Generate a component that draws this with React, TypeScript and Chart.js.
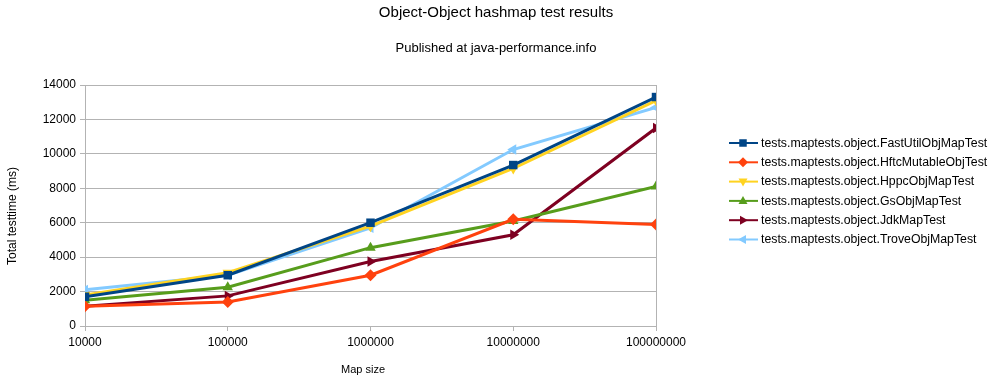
import React, { useEffect, useRef } from "react";
import { Chart, registerables } from "chart.js";

Chart.register(...registerables);

const mapSizes = [10000, 100000, 1000000, 10000000, 100000000];
const yTicks = [0, 2000, 4000, 6000, 8000, 10000, 12000, 14000];

const seriesNames = [
  "tests.maptests.object.FastUtilObjMapTest",
  "tests.maptests.object.HftcMutableObjTest",
  "tests.maptests.object.HppcObjMapTest",
  "tests.maptests.object.GsObjMapTest",
  "tests.maptests.object.JdkMapTest",
  "tests.maptests.object.TroveObjMapTest",
];

const fastUtil = [1700, 2950, 6000, 9350, 13300];
const hftc = [1150, 1400, 2950, 6200, 5900];
const hppc = [1800, 3100, 5800, 9150, 13100];
const gs = [1500, 2250, 4550, 6100, 8100];
const jdk = [1150, 1750, 3750, 5300, 11500];
const trove = [2100, 2950, 5700, 10250, 12700];

const seriesValues = [fastUtil, hftc, hppc, gs, jdk, trove];
const seriesColors = ["#004586", "#ff420e", "#ffd320", "#579d1c", "#7e0021", "#83caff"];
const seriesStyles = ["rect", "rectRot", "triangle", "triangle", "triangle", "triangle"];
const seriesRotations = [0, 0, 180, 0, 90, -90];

const FONT = "'Liberation Sans', Arial, sans-serif";

function drawMarker(ctx: CanvasRenderingContext2D, style: string, rot: number, x: number, y: number, r: number, color: string) {
  ctx.save();
  ctx.translate(x, y);
  ctx.rotate((rot * Math.PI) / 180);
  ctx.fillStyle = color;
  ctx.beginPath();
  if (style === "rect") {
    const s = r * 0.75;
    ctx.rect(-s, -s, 2 * s, 2 * s);
  } else if (style === "rectRot") {
    ctx.moveTo(0, -r);
    ctx.lineTo(r, 0);
    ctx.lineTo(0, r);
    ctx.lineTo(-r, 0);
    ctx.closePath();
  } else {
    ctx.moveTo(0, -r);
    ctx.lineTo(r * 0.9, r * 0.6);
    ctx.lineTo(-r * 0.9, r * 0.6);
    ctx.closePath();
  }
  ctx.fill();
  ctx.restore();
}

const decorPlugin = {
  id: "decor",
  afterDraw(chart: any) {
    const ctx: CanvasRenderingContext2D = chart.ctx;
    const { right, top, bottom } = chart.chartArea;
    ctx.save();
    ctx.strokeStyle = "#b3b3b3";
    ctx.lineWidth = 1;
    ctx.beginPath();
    ctx.moveTo(Math.round(right) + 0.5, top);
    ctx.lineTo(Math.round(right) + 0.5, bottom);
    ctx.stroke();

    ctx.fillStyle = "#000";
    ctx.textAlign = "center";
    ctx.textBaseline = "middle";
    ctx.font = `15px ${FONT}`;
    ctx.fillText("Object-Object hashmap test results", 496, 13);
    ctx.font = `13px ${FONT}`;
    ctx.fillText("Published at java-performance.info", 496, 48);

    ctx.font = `11px ${FONT}`;
    ctx.fillText("Map size", 363, 370);
    ctx.save();
    ctx.font = `12px ${FONT}`;
    ctx.translate(13, 216);
    ctx.rotate(-Math.PI / 2);
    ctx.fillText("Total testtime (ms)", 0, 0);
    ctx.restore();

    ctx.font = `12.3px ${FONT}`;
    ctx.textAlign = "left";
    chart.data.datasets.forEach((ds: any, i: number) => {
      const y = 143 + i * 19.3;
      ctx.strokeStyle = ds.borderColor;
      ctx.lineWidth = 2;
      ctx.beginPath();
      ctx.moveTo(729, y);
      ctx.lineTo(758, y);
      ctx.stroke();
      drawMarker(ctx, seriesStyles[i], seriesRotations[i], 743, y, 5, ds.borderColor);
      ctx.fillStyle = "#000";
      ctx.fillText(ds.label, 761, y + 0.5);
    });
    ctx.restore();
  },
};

export default function App() {
  const ref = useRef<HTMLCanvasElement | null>(null);
  useEffect(() => {
    document.body.style.margin = "0";
    const canvas = ref.current!;
    const chart = new Chart(canvas, {
      type: "line",
      data: {
        datasets: seriesNames.map((name, i) => ({
          label: name,
          data: mapSizes.map((x, j) => ({ x, y: seriesValues[i][j] })),
          borderColor: seriesColors[i],
          backgroundColor: seriesColors[i],
          borderWidth: 3,
          pointStyle: seriesStyles[i] as any,
          rotation: seriesRotations[i],
          pointRadius: 6,
          pointBorderWidth: 0,
          tension: 0,
        })),
      },
      options: {
        animation: false,
        responsive: false,
        layout: { padding: { left: 0, top: 85, right: 348, bottom: 0 } },
        plugins: { legend: { display: false }, title: { display: false }, tooltip: { enabled: false } },
        scales: {
          x: {
            type: "logarithmic",
            min: 10000,
            max: 100000000,
            afterBuildTicks: (scale: any) => {
              scale.ticks = mapSizes.map((v) => ({ value: v }));
            },
            afterFit: (scale: any) => {
              scale.height = 59;
            },
            grid: { drawOnChartArea: false, color: "#b3b3b3", tickLength: 5 },
            border: { color: "#b3b3b3" },
            ticks: {
              autoSkip: false,
              maxRotation: 0,
              padding: 4,
              color: "#000",
              font: { family: FONT, size: 12 },
              callback: (v: any) => String(v),
            },
          },
          y: {
            min: 0,
            max: 14000,
            afterBuildTicks: (scale: any) => {
              scale.ticks = yTicks.map((v) => ({ value: v }));
            },
            afterFit: (scale: any) => {
              scale.width = 85;
            },
            grid: { color: "#b3b3b3", tickLength: 5 },
            border: { color: "#b3b3b3" },
            ticks: {
              padding: 4,
              color: "#000",
              font: { family: FONT, size: 12 },
              callback: (v: any) => String(v),
            },
          },
        },
      },
      plugins: [decorPlugin],
    });
    return () => chart.destroy();
  }, []);
  return <canvas ref={ref} width={1004} height={385} style={{ display: "block" }} />;
}
